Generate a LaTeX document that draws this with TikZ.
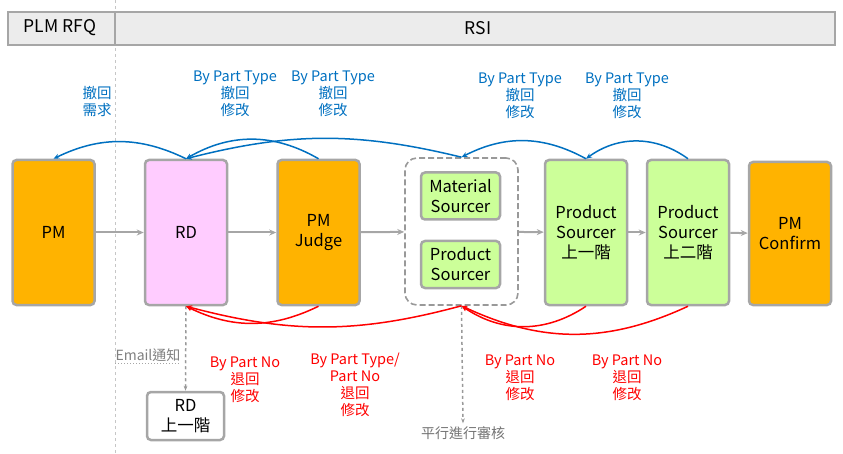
\documentclass[tikz,border=0pt]{standalone}
\usepackage{fontspec}
\setmainfont{Noto Sans CJK TC}
\usetikzlibrary{arrows.meta,positioning}
\definecolor{pmorange}{HTML}{FFB300}
\definecolor{rdpink}{HTML}{FFCCFF}
\definecolor{srcgreen}{HTML}{CCFF99}
\definecolor{backblue}{HTML}{0070C0}
\definecolor{backred}{HTML}{FF0000}
\definecolor{edgegray}{HTML}{A6A6A6}

\tikzset{
  stage/.style={draw=edgegray,line width=2.5pt,rounded corners=4pt,minimum width=82pt,
    minimum height=145pt,align=center,inner sep=2pt,font=\fontsize{16.5}{20}\selectfont},
  subbox/.style={stage,minimum width=79pt,minimum height=47pt,fill=srcgreen},
  flow/.style={edgegray,line width=2pt,-{Stealth[length=7pt,width=6pt]}},
  withdraw/.style={backblue,line width=1.5pt,-{Stealth[length=6pt,width=5pt]}},
  reject/.style={backred,line width=1.5pt,-{Stealth[length=6pt,width=5pt]}},
  note/.style={align=center,font=\fontsize{14.5}{17}\selectfont,inner sep=0pt},
}

\begin{document}
\begin{tikzpicture}[x=1pt,y=1pt]
  \useasboundingbox (0,0) rectangle (843,453);
  % swimlane header
  \draw[gray!45,dashed,line width=0.8pt] (115,0) -- (115,453);
  \draw[edgegray,line width=2pt,fill=gray!15] (8,408) rectangle (835,441);
  \draw[edgegray,line width=2pt] (115,408) -- (115,441);
  \node[font=\fontsize{17.5}{18}\selectfont] (rfq) at (60,425) {PLM RFQ};
  \node[font=\fontsize{17.5}{18}\selectfont] (rsi) at (478,425) {RSI};

  % stages
  \node[stage,fill=pmorange] (pm) at (53.5,220.5) {PM};
  \node[stage,fill=rdpink] (rd) at (186,220.5) {RD};
  \node[stage,fill=pmorange] (judge) at (318.5,220.5) {PM\\Judge};
  \node[draw=gray!80,dashed,line width=1.6pt,dash pattern=on 6pt off 3pt,rounded corners=12pt,
    minimum width=113pt,minimum height=147pt] (group) at (461.5,221.5) {};
  \node[subbox] (matsrc) at (460.5,257) {Material\\Sourcer};
  \node[subbox] (prodsrc) at (460.5,188.5) {Product\\Sourcer};
  \node[stage,fill=srcgreen] (ps1) at (586,220.5) {Product\\Sourcer\\上一階};
  \node[stage,fill=srcgreen] (ps2) at (688,220.5) {Product\\Sourcer\\上二階};
  \node[stage,fill=pmorange,minimum height=143pt] (confirm) at (790,219.5) {PM\\Confirm};
  \node[stage,fill=white,minimum width=77pt,minimum height=48pt] (rdup) at (185.5,37) {RD\\上一階};

  % main flow
  \draw[flow] (pm) -- (rd);
  \draw[flow] (rd) -- (judge);
  \draw[flow] (judge) -- (group);
  \draw[flow] (group) -- (ps1);
  \draw[flow] (ps1) -- (ps2);
  \draw[flow] (ps2) -- (confirm);

  % notify / parallel review
  \node[note,text=gray,font=\fontsize{14}{15}\selectfont] (email) at (148,98) {Email通知};
  \draw[gray!70,dotted,line width=1pt] ([yshift=-2pt]email.south west) -- ([yshift=-2pt]email.south east);
  \draw[gray!80,dashed,line width=1.5pt,-{Stealth[length=5pt]}] (rd.south) -- (rdup.north);
  \node[note,text=gray!90!black,font=\fontsize{14}{15}\selectfont] (parallel) at (463,20) {平行進行審核};
  \draw[gray!80,dashed,line width=1.5pt,-{Stealth[length=5pt]}] (group.south) -- ([yshift=3pt]parallel.north);

  % withdraw arcs (blue)
  \draw[withdraw] (rd.north) to[bend right=26] (pm.north);
  \draw[withdraw] (judge.north) to[bend right=30] (rd.north);
  \draw[withdraw] (group.north) to[bend right=14] (rd.north);
  \draw[withdraw] (ps1.north) to[bend right=28] (group.north);
  \draw[withdraw] (ps2.north) to[bend right=36] (ps1.north);
  \node[note,text=backblue,align=right] (wd0) at (97,351) {撤回\\需求};
  \node[note,text=backblue] (wd1) at (235,359) {By Part Type\\撤回\\修改};
  \node[note,text=backblue] (wd2) at (333,359) {By Part Type\\撤回\\修改};
  \node[note,text=backblue] (wd3) at (520,357) {By Part Type\\撤回\\修改};
  \node[note,text=backblue] (wd4) at (627,357) {By Part Type\\撤回\\修改};

  % reject arcs (red)
  \draw[reject] (judge.south) to[bend left=26] (rd.south);
  \draw[reject] (group.south) to[bend left=15] (rd.south);
  \draw[reject] (ps1.south) to[bend left=34] (group.south);
  \draw[reject] (ps2.south) to[bend left=25] (group.south);
  \node[note,text=backred] (rj1) at (245,73) {By Part No\\退回\\修改};
  \node[note,text=backred] (rj2) at (355,68) {By Part Type/\\Part No\\退回\\修改};
  \node[note,text=backred] (rj3) at (520,75) {By Part No\\退回\\修改};
  \node[note,text=backred] (rj4) at (627,75) {By Part No\\退回\\修改};
\end{tikzpicture}
\end{document}
